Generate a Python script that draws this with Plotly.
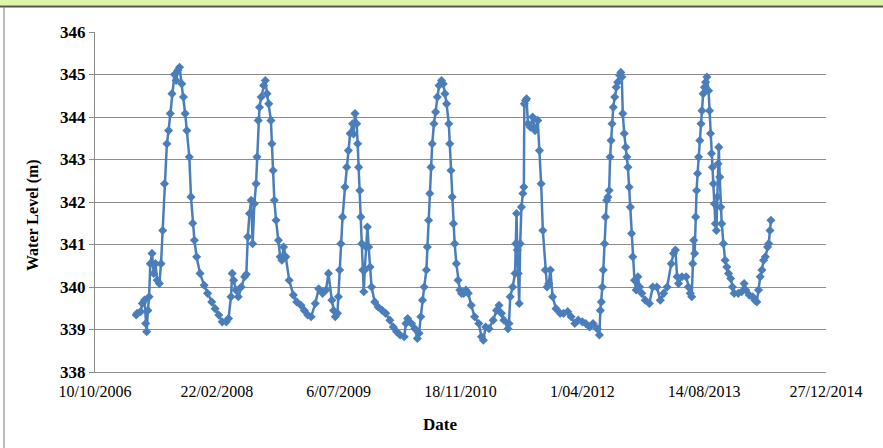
import plotly.graph_objects as go

# ---- data ----
dates = [
    "2007-03-28", "2007-04-01", "2007-04-15", "2007-04-22", "2007-05-01", "2007-05-06", "2007-05-10",
    "2007-05-15", "2007-05-20", "2007-05-25", "2007-06-01", "2007-06-08", "2007-06-15", "2007-06-22",
    "2007-07-01", "2007-07-08", "2007-07-15", "2007-07-22", "2007-08-01", "2007-08-08", "2007-08-15",
    "2007-08-22", "2007-09-01", "2007-09-08", "2007-09-15", "2007-09-22", "2007-10-01", "2007-10-08",
    "2007-10-15", "2007-10-22", "2007-11-01", "2007-11-08", "2007-11-15", "2007-11-22", "2007-12-01",
    "2007-12-15",
    "2008-01-01", "2008-01-15", "2008-02-01", "2008-02-15", "2008-03-01", "2008-03-15", "2008-04-01",
    "2008-04-10", "2008-04-20", "2008-04-25", "2008-05-01", "2008-05-10", "2008-05-20", "2008-06-01",
    "2008-06-15", "2008-06-22", "2008-06-28", "2008-07-05", "2008-07-12", "2008-07-18", "2008-07-25",
    "2008-08-01", "2008-08-05", "2008-08-10", "2008-08-15", "2008-08-22", "2008-09-01", "2008-09-08",
    "2008-09-15", "2008-09-22", "2008-10-01", "2008-10-05", "2008-10-10", "2008-10-15", "2008-10-22",
    "2008-11-01", "2008-11-08", "2008-11-15", "2008-11-22", "2008-12-01", "2008-12-15",
    "2009-01-01", "2009-01-15", "2009-02-01", "2009-02-15", "2009-03-01", "2009-03-15", "2009-04-01",
    "2009-04-15", "2009-05-01", "2009-05-15", "2009-05-25", "2009-06-08", "2009-06-15", "2009-06-22",
    "2009-07-01", "2009-07-05", "2009-07-10", "2009-07-15", "2009-07-22", "2009-08-01", "2009-08-08",
    "2009-08-15", "2009-08-22", "2009-09-01", "2009-09-05", "2009-09-11", "2009-09-18", "2009-09-22",
    "2009-09-26", "2009-10-01", "2009-10-05", "2009-10-09", "2009-10-13", "2009-10-17", "2009-10-21",
    "2009-10-26", "2009-11-01", "2009-11-06", "2009-11-12", "2009-11-18", "2009-12-01", "2009-12-15",
    "2010-01-01", "2010-01-15", "2010-02-01", "2010-02-15", "2010-03-01", "2010-03-15", "2010-04-01",
    "2010-04-08", "2010-04-15", "2010-05-01", "2010-05-15", "2010-05-25", "2010-06-01", "2010-06-08",
    "2010-06-15", "2010-06-22", "2010-07-01", "2010-07-05", "2010-07-10", "2010-07-15", "2010-07-20",
    "2010-07-25", "2010-08-01", "2010-08-08", "2010-08-15", "2010-08-22", "2010-09-01", "2010-09-08",
    "2010-09-15", "2010-09-22", "2010-10-01", "2010-10-05", "2010-10-10", "2010-10-15", "2010-10-20",
    "2010-10-25", "2010-11-01", "2010-11-08", "2010-11-15", "2010-11-22", "2010-12-01", "2010-12-10",
    "2010-12-20",
    "2011-01-01", "2011-01-15", "2011-02-01", "2011-02-12", "2011-02-20", "2011-03-01", "2011-03-15",
    "2011-04-01", "2011-04-15", "2011-04-25", "2011-05-05", "2011-05-15", "2011-06-01", "2011-06-05",
    "2011-06-10", "2011-06-20", "2011-06-30", "2011-07-03", "2011-07-06", "2011-07-09", "2011-07-13",
    "2011-07-17", "2011-07-21", "2011-07-26", "2011-08-01", "2011-08-05", "2011-08-07", "2011-08-12",
    "2011-08-16", "2011-08-22", "2011-09-01", "2011-09-10", "2011-09-20", "2011-10-01", "2011-10-08",
    "2011-10-15", "2011-10-22", "2011-11-01", "2011-11-08", "2011-11-15", "2011-11-22", "2011-12-01",
    "2011-12-15",
    "2012-01-01", "2012-01-15", "2012-02-01", "2012-02-15", "2012-03-01", "2012-03-15", "2012-04-01",
    "2012-04-15", "2012-05-01", "2012-05-15", "2012-06-01", "2012-06-10", "2012-06-14", "2012-06-18",
    "2012-06-22", "2012-06-26", "2012-07-01", "2012-07-05", "2012-07-10", "2012-07-15", "2012-07-20",
    "2012-07-24", "2012-07-28", "2012-08-01", "2012-08-06", "2012-08-12", "2012-08-18", "2012-08-24",
    "2012-09-01", "2012-09-06", "2012-09-10", "2012-09-14", "2012-09-20", "2012-09-26", "2012-10-01",
    "2012-10-05", "2012-10-10", "2012-10-15", "2012-10-20", "2012-10-25", "2012-11-01", "2012-11-08",
    "2012-11-15", "2012-11-22", "2012-12-01", "2012-12-15",
    "2013-01-01", "2013-01-15", "2013-02-01", "2013-02-15", "2013-03-01", "2013-03-15", "2013-04-01",
    "2013-04-10", "2013-04-18", "2013-04-25", "2013-05-01", "2013-05-15", "2013-06-01", "2013-06-10",
    "2013-06-18", "2013-06-24", "2013-06-28", "2013-07-02", "2013-07-06", "2013-07-10", "2013-07-14",
    "2013-07-18", "2013-07-22", "2013-07-27", "2013-08-01", "2013-08-05", "2013-08-10", "2013-08-15",
    "2013-08-20", "2013-08-25", "2013-09-01", "2013-09-05", "2013-09-09", "2013-09-13", "2013-09-17",
    "2013-09-21", "2013-09-25", "2013-09-29", "2013-10-03", "2013-10-07", "2013-10-10", "2013-10-13",
    "2013-10-17", "2013-10-21", "2013-10-25", "2013-11-01", "2013-11-08", "2013-11-15", "2013-11-22",
    "2013-12-01", "2013-12-08", "2013-12-15",
    "2014-01-01", "2014-01-15", "2014-01-25", "2014-02-01", "2014-02-15", "2014-03-01", "2014-03-10",
    "2014-03-18", "2014-03-25", "2014-04-01", "2014-04-08", "2014-04-15", "2014-04-22", "2014-05-01",
    "2014-05-06", "2014-05-11", "2014-05-15",
]

water_level = [
    339.34, 339.38, 339.42, 339.61, 339.69, 339.14, 338.95,
    339.45, 339.77, 340.55, 340.79, 340.32, 340.55, 340.16,
    340.08, 340.55, 341.33, 342.43, 343.37, 343.68, 344.08,
    344.55, 345.00, 344.86, 345.10, 345.17, 344.78, 344.47,
    344.08, 343.68, 343.06, 342.12, 341.50, 341.10, 340.71,
    340.32,
    340.04, 339.85, 339.65, 339.49, 339.34, 339.18, 339.18,
    339.26, 339.77, 340.32, 340.16, 339.93, 339.77, 340.00,
    340.24, 340.30, 341.18, 341.73, 342.04, 341.02, 341.96,
    342.43, 343.06, 343.92, 344.23, 344.47, 344.74, 344.86,
    344.55, 344.31, 343.92, 343.37, 342.74, 342.04, 341.57,
    341.10, 340.71, 340.63, 340.94, 340.71, 340.16,
    339.81, 339.65, 339.57, 339.45, 339.34, 339.30, 339.61,
    339.96, 339.85, 339.93, 340.32, 339.69, 339.45, 339.30,
    339.38, 339.77, 340.40, 341.02, 341.65, 342.35, 342.82,
    343.21, 343.61, 343.84, 343.60, 344.08, 343.84, 343.37,
    342.82, 342.27, 341.65, 341.02, 340.40, 339.89, 340.40,
    340.94, 341.41, 340.94, 340.47, 340.00, 339.65, 339.53,
    339.45, 339.38, 339.22, 339.06, 338.95, 338.87, 338.83,
    339.14, 339.26, 339.14, 339.02, 338.79, 338.91, 339.30,
    339.69, 340.00, 340.40, 340.94, 341.57, 342.20, 342.82,
    343.37, 343.84, 344.12, 344.47, 344.74, 344.86, 344.78,
    344.55, 344.31, 343.84, 343.37, 342.74, 342.12, 341.49,
    341.02, 340.55, 340.16, 339.93, 339.85, 339.85, 339.93,
    339.85,
    339.57, 339.30, 339.14, 338.83, 338.75, 339.06, 339.02,
    339.22, 339.45, 339.57, 339.38, 339.22, 339.02, 339.14,
    339.77, 340.00, 340.32, 341.02, 341.73, 340.87, 340.32,
    339.61, 341.02, 341.88, 342.20, 342.35, 344.31, 344.39,
    344.43, 343.84, 343.76, 344.00, 343.68, 343.92, 343.21,
    342.43, 341.33, 340.40, 340.00, 340.08, 340.40, 339.77,
    339.49,
    339.38, 339.38, 339.42, 339.30, 339.14, 339.22, 339.18,
    339.14, 339.06, 339.14, 339.02, 338.87, 339.45, 339.65,
    340.00, 340.40, 341.02, 341.65, 342.04, 342.12, 342.27,
    343.06, 343.45, 343.84, 344.23, 344.47, 344.70, 344.82,
    344.98, 345.05, 344.94, 344.08, 343.61, 343.29, 343.06,
    342.82, 342.35, 341.88, 341.26, 340.71, 340.16, 339.93,
    340.24, 340.00, 339.85, 339.69,
    339.61, 340.00, 340.00, 339.69, 339.85, 340.00, 340.55,
    340.79, 340.87, 340.24, 340.08, 340.24, 340.24, 340.00,
    339.85, 339.77, 340.55, 341.10, 340.79, 341.65, 342.27,
    342.67, 343.06, 343.45, 343.84, 344.15, 344.55, 344.70,
    344.82, 344.94, 344.62, 344.15, 343.61, 343.14, 342.82,
    342.43, 341.96, 341.49, 341.33, 342.12, 342.90, 343.29,
    342.59, 341.88, 341.49, 341.02, 340.63, 340.47, 340.32,
    340.20, 340.00, 339.85,
    339.85, 339.89, 340.08, 339.93, 339.81, 339.77, 339.69,
    339.65, 339.93, 340.24, 340.40, 340.63, 340.71, 340.94,
    341.02, 341.33, 341.57,
]

x_tick_dates = ["2006-10-10", "2008-02-22", "2009-07-06", "2010-11-18",
                "2012-04-01", "2013-08-14", "2014-12-27"]
x_tick_labels = ["10/10/2006", "22/02/2008", "6/07/2009", "18/11/2010",
                 "1/04/2012", "14/08/2013", "27/12/2014"]
y_ticks = [338, 339, 340, 341, 342, 343, 344, 345, 346]

# ---- layout geometry (pixels) ----
W, H = 883, 448
L, R, T, B = 95, 826, 32, 372
pw, ph = R - L, B - T


def px(x):
    return (x - L) / pw


def py(y):
    return (B - y) / ph


SERIF = "Liberation Serif, Times New Roman, serif"
BLUE = "#4A7EBB"
GRID = "#8C8C8C"

fig = go.Figure()
fig.add_trace(go.Scatter(
    x=dates, y=water_level, mode="lines+markers",
    line=dict(color=BLUE, width=2.5),
    marker=dict(symbol="diamond", size=7, color=BLUE),
    showlegend=False, hoverinfo="x+y",
))

fig.update_layout(
    width=W, height=H,
    margin=dict(l=L, r=W - R, t=T, b=H - B),
    paper_bgcolor="white", plot_bgcolor="white",
    font=dict(family=SERIF, color="black"),
    xaxis=dict(
        type="date", range=[x_tick_dates[0], x_tick_dates[-1]],
        tickmode="array", tickvals=x_tick_dates, ticktext=x_tick_labels,
        showgrid=False, zeroline=False,
        showline=True, linecolor=GRID, linewidth=1,
        ticks="outside", ticklen=5, tickcolor="white",
        tickfont=dict(family=SERIF, size=16, color="black"),
    ),
    yaxis=dict(
        range=[338, 346], tickmode="array", tickvals=y_ticks,
        showgrid=True, gridcolor=GRID, gridwidth=1, zeroline=False,
        showline=True, linecolor=GRID, linewidth=1,
        ticks="outside", ticklen=5, tickcolor=GRID,
        tickfont=dict(family=SERIF, size=17, color="black", weight="bold"),
    ),
    annotations=[
        dict(text="<b>Water Level (m)</b>", textangle=-90, showarrow=False,
             xref="paper", yref="paper", x=px(33), y=py(215),
             xanchor="center", yanchor="middle",
             font=dict(family=SERIF, size=16, color="black")),
        dict(text="<b>Date</b>", showarrow=False,
             xref="paper", yref="paper", x=px(440), y=py(425),
             xanchor="center", yanchor="middle",
             font=dict(family=SERIF, size=17, color="black")),
    ],
    shapes=[
        dict(type="rect", xref="paper", yref="paper", layer="below",
             x0=px(0), x1=px(W), y0=py(5.5), y1=py(0),
             fillcolor="#DDF5A8", line=dict(width=0)),
        dict(type="line", xref="paper", yref="paper",
             x0=px(0), x1=px(W), y0=py(6.5), y1=py(6.5),
             line=dict(color="#555555", width=2)),
        dict(type="line", xref="paper", yref="paper",
             x0=px(4), x1=px(4), y0=py(6.5), y1=py(H),
             line=dict(color="#777777", width=1)),
    ],
)

fig.write_html("out.html")
